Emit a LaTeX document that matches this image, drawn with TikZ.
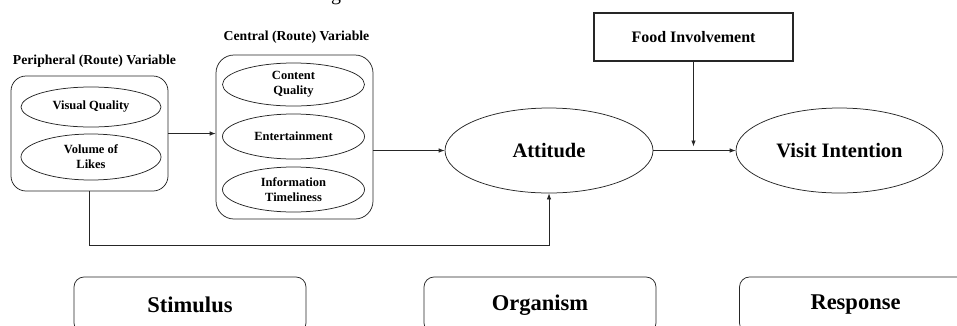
\documentclass[tikz,border=0pt]{standalone}
\usepackage{fontspec}
\setmainfont{Liberation Serif}
\usetikzlibrary{arrows.meta,shapes.geometric}
\begin{document}
\begin{tikzpicture}[x=1pt,y=-1pt,
  line/.style={draw=black!85, line width=0.75pt},
  arr/.style={line, -{Latex[length=6pt,width=4.5pt]}},
  inner/.style={ellipse, line, minimum width=142pt, minimum height=43pt, inner sep=0pt, align=center,
    font=\bfseries\fontsize{12.5}{15}\selectfont},
  grouplabel/.style={inner sep=0pt, font=\bfseries\fontsize{13.7}{16}\selectfont},
  groupbox/.style={line, rectangle, inner sep=0pt},
  big/.style={ellipse, line, minimum width=208pt, minimum height=85pt, inner sep=0pt,
    font=\bfseries\fontsize{20.5}{24}\selectfont},
  phase/.style={line, rectangle, rounded corners=10pt, minimum width=232pt, minimum height=56pt, inner sep=0pt,
    font=\bfseries\fontsize{22.5}{26}\selectfont}
]
\useasboundingbox (0,0) rectangle (957,325);
\begin{scope}
\clip (0,0) rectangle (957,325);
\node[anchor=base, inner sep=0pt, font=\fontsize{20}{24}\selectfont] (ttl) at (336,0.5) {g};
\end{scope}

% peripheral group
\node[grouplabel] (plab) at (94.5,61) {Peripheral (Route) Variable};
\node[groupbox, rounded corners=15pt, minimum width=157pt, minimum height=115pt] (pbox) at (89.5,133.5) {};
\node[inner, minimum width=140pt, minimum height=40pt] (vq) at (91,107) {Visual Quality};
\node[inner, minimum width=140pt, minimum height=46pt] (vl) at (91,157) {Volume of\\Likes};

% central group
\node[grouplabel] (clab) at (296.5,37) {Central (Route) Variable};
\node[groupbox, rounded corners=18pt, minimum width=157pt, minimum height=164pt] (cbox) at (294.5,137) {};
\node[inner] (cq) at (293.5,84.5) {Content\\Quality};
\node[inner, minimum height=45pt] (ent) at (293.5,136.5) {Entertainment};
\node[inner, minimum height=45pt] (it) at (293.5,189.5) {Information\\Timeliness};

% main constructs
\node[big] (att) at (549,150.5) {Attitude};
\node[big, minimum width=207pt] (vi) at (839.5,150.5) {Visit Intention};
\node[line, line width=1.5pt, rectangle, minimum width=199pt, minimum height=48pt, inner sep=0pt,
  font=\bfseries\fontsize{16}{19}\selectfont] (food) at (693.5,37) {Food Involvement};

% phases
\node[phase] (stim) at (190,305) {Stimulus};
\node[phase] (org) at (540,305) {Organism};
\node[phase] (resp) at (855.5,305) {Response};

% connectors
\draw[arr] (pbox.east) -- (pbox.east -| cbox.west);
\draw[arr] (cbox.east |- att) -- (att.west);
\draw[arr] (att) -- (vi);
\draw[arr, shorten >=4pt] (food.south) -- (food.south |- att);
\draw[arr] (pbox.south) -- (pbox.south |- 0,245) -| (att.south);
\end{tikzpicture}
\end{document}
